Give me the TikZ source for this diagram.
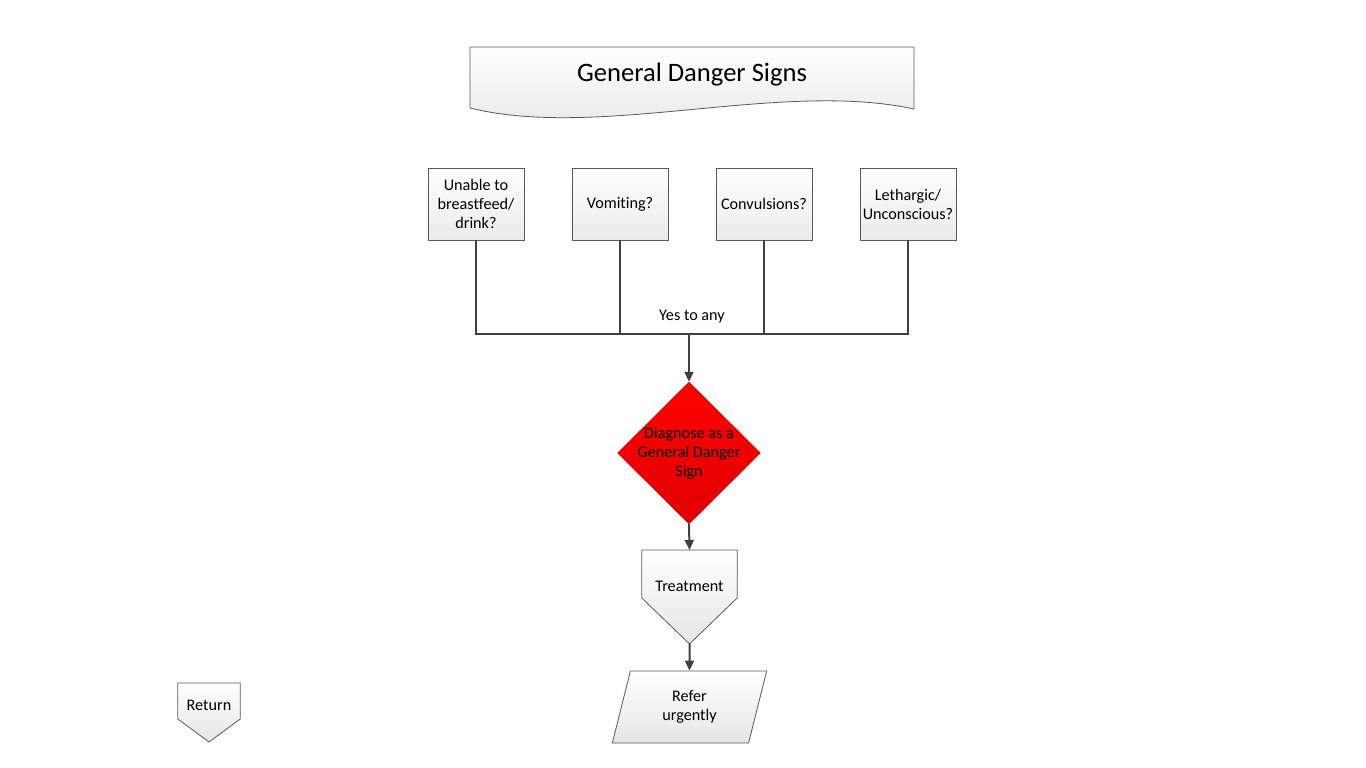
\documentclass[tikz,border=0pt]{standalone}
\usepackage{fontspec}
\setmainfont[Ligatures=NoCommon]{Carlito}
\usetikzlibrary{arrows.meta,positioning,shapes.geometric,calc,backgrounds}

\begin{document}
\begin{tikzpicture}[x=1pt,y=-1pt,
  node distance=47.2pt,
  qbox/.style={draw=black!65,line width=0.8pt,top color=white,bottom color=black!8,
               align=center,minimum width=96pt,minimum height=72pt,inner sep=2pt,
               font=\fontsize{16.2}{19}\selectfont},
  lbl/.style={align=center,font=\fontsize{16.2}{19}\selectfont},
  outline/.style={draw=black!65,line width=0.8pt,top color=white,bottom color=black!10},
  offpage/.style={lbl,rectangle,inner sep=0pt},
  conn/.style={draw=black!75,line width=2pt},
  arr/.style={conn,-{Triangle[length=10pt,width=9pt]}}
]
\useasboundingbox (0,0) rectangle (1366,768);

% title
\node[font=\fontsize{26.6}{31}\selectfont] (title) at (692,75) {General Danger Signs};

% questions
\node[qbox] (feed) at (476,204) {Unable to\\breastfeed/\\drink?};
\node[qbox,right=of feed] (vomit) {Vomiting?};
\node[qbox,right=of vomit] (conv) {Convulsions?};
\node[qbox,right=of conv] (leth) {Lethargic/\\Unconscious?};

\coordinate (bus) at (689,334);
\node[lbl] (yes) at (692,317) {Yes to any};

\node[diamond,draw=red!75!black,top color=red,bottom color=red!88!black,
      minimum width=143pt,minimum height=142pt,inner sep=-6pt,lbl] (diag) at (689,453)
      {Diagnose as a\\General Danger\\Sign};

\node[offpage,minimum width=95pt,minimum height=72pt,anchor=north] (treat) at (689.5,550) {Treatment};
\coordinate (treattip) at ($(treat.north)+(0,94)$);

\node[trapezium,trapezium left angle=76.7,trapezium right angle=103.3,trapezium stretches=true,
      minimum width=155pt,minimum height=72pt,outline,lbl] (refer) at (689.5,707) {Refer\\urgently};

\node[offpage,minimum width=62pt,minimum height=44pt,anchor=north] (ret) at (209,683) {Return};
\coordinate (rettip) at ($(ret.north)+(0,59)$);

\begin{scope}[on background layer]
\shade[outline] (470,47) -- (914,47) -- (914,109)
  .. controls (780,80) and (600,140) .. (470,108) -- cycle;
\shade[outline] (treat.north west) -- (treat.north east) -- ++(0,48) -- (treattip)
  -- ($(treat.north west)+(0,48)$) -- cycle;
\shade[outline] (ret.north west) -- (ret.north east) -- ++(0,36) -- (rettip)
  -- ($(ret.north west)+(0,36)$) -- cycle;
\end{scope}

% connectors
\draw[conn] (feed.south) |- (leth.south |- bus) -- (leth.south);
\draw[conn] (vomit.south) -- (vomit.south |- bus);
\draw[conn] (conv.south) -- (conv.south |- bus);
\draw[arr] (bus) -- (diag.north);
\draw[arr] (diag.south) -- (treat.north);
\draw[arr] (treattip) -- (refer.north);
\end{tikzpicture}
\end{document}
